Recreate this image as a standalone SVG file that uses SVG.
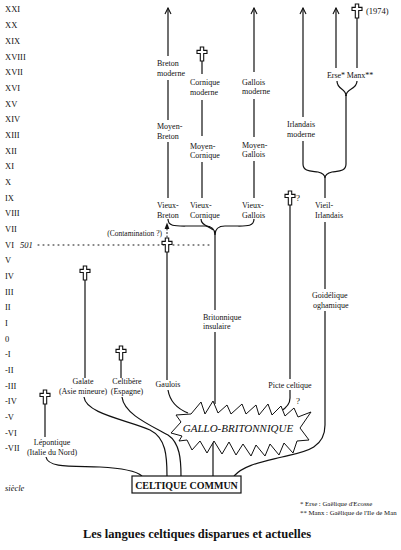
<svg xmlns="http://www.w3.org/2000/svg" xmlns:xlink="http://www.w3.org/1999/xlink" width="401" height="550" viewBox="0 0 401 550">
<style>
text{font-family:"Liberation Serif","Times New Roman",serif;fill:#111}
.c{font-size:8.5px}
.l{font-size:8px}
.ln{fill:none;stroke:#111;stroke-width:1.2}
.dot{fill:none;stroke:#111;stroke-width:1;stroke-dasharray:1 4;stroke-linecap:round}
.cr{fill:#fff;stroke:#111;stroke-width:1.1}
</style>
<defs>
<marker id="ah" markerWidth="8" markerHeight="8" refX="7" refY="4" orient="auto" markerUnits="userSpaceOnUse" viewBox="0 0 8 8">
<path d="M1,1 L7,4 L1,7" fill="none" stroke="#111" stroke-width="1.1"/>
</marker>
<path id="cross" class="cr" d="M-1.7,-7 h3.4 v3.4 h3.3 v3.1 h-3.3 v7.5 h-3.4 v-7.5 h-3.3 v-3.1 h3.3 z"/>
</defs>
<rect width="401" height="550" fill="#fff"/>

<g id="centuries" class="c">
<text x="5" y="12">XXI</text><text x="5" y="28">XX</text><text x="5" y="44">XIX</text><text x="5" y="60">XVIII</text>
<text x="5" y="75">XVII</text><text x="5" y="91">XVI</text><text x="5" y="107">XV</text><text x="5" y="122">XIV</text>
<text x="5" y="138">XIII</text><text x="5" y="154">XII</text><text x="5" y="169">XI</text><text x="5" y="185">X</text>
<text x="5" y="201">IX</text><text x="5" y="216">VIII</text><text x="5" y="232">VII</text><text x="5" y="248">VI</text>
<text x="5" y="263">V</text><text x="5" y="279">IV</text><text x="5" y="295">III</text><text x="5" y="310">II</text>
<text x="5" y="326">I</text><text x="5" y="342">0</text><text x="5" y="357">-I</text><text x="5" y="373">-II</text>
<text x="5" y="389">-III</text><text x="5" y="404">-IV</text><text x="5" y="420">-V</text><text x="5" y="436">-VI</text>
<text x="5" y="451">-VII</text>
<text x="5" y="491" font-style="italic">siècle</text>
</g>

<g id="date501">
<text x="20" y="248" class="c" font-style="italic">501</text>
<path class="dot" d="M38,245 H212"/>
</g>

<g id="connectors">
<!-- Breton -->
<path class="ln" d="M168,56 V8" marker-end="url(#ah)"/>
<path class="ln" d="M168,80 V120 M168,142 V198"/>
<!-- Cornique -->
<path class="ln" d="M202,61 V74 M202,100 V136 M202,162 V198"/>
<!-- Gallois -->
<path class="ln" d="M254,72 V8" marker-end="url(#ah)"/>
<path class="ln" d="M254,99 V137 M254,161 V198"/>
<!-- Vieux fork -->
<path class="ln" d="M168,219 C168,227 176,226 190,226 L205,226 C212,226 215,229 215,235"/>
<path class="ln" d="M201,219 C201,226 210,226 213,230"/>
<path class="ln" d="M254,219 C254,227 246,226 234,226 L225,226 C218,226 215,229 215,235"/>
<path class="ln" d="M215,235 V310 M215,332 V404"/>
<!-- Irlandais -->
<path class="ln" d="M303,117 V8" marker-end="url(#ah)"/>
<path class="ln" d="M303,141 V164 C303,172 312,171 318,172 C322,173 325,175 325,178"/>
<path class="ln" d="M346,95 V164 C346,172 337,171 332,172 C328,173 325,175 325,178"/>
<path class="ln" d="M325,178 V198 M325,222 V289 M325,311 V425 C325,450 302,452 282,457 C262,462 244,465 234,476"/>
<!-- Erse / Manx -->
<path class="ln" d="M336,68 V8" marker-end="url(#ah)"/>
<path class="ln" d="M357,18 V68"/>
<path class="ln" d="M337,81 C337,90 346,88 346,96"/>
<path class="ln" d="M357,81 C357,90 346,88 346,96"/>
<!-- Gaulois -->
<path class="ln" d="M167,252 V380"/>
<path class="dot" d="M167,237 V229" style="stroke-dasharray:1 2.5"/>
<path d="M164.6,229 L167,222.5 L169.4,229 Z" fill="#111"/>
<path class="ln" d="M168,390 C170,402 178,409 188,413"/>
<!-- Picte -->
<path class="ln" d="M290,205 V379"/>
<path class="ln" d="M290,390 V398 C290,404 286,408 281,411"/>
<!-- Galate -->
<path class="ln" d="M85,280 V378"/>
<path class="ln" d="M84,397 C86,414 128,420 150,430 C166,438 167,456 167,476"/>
<!-- Celtibere -->
<path class="ln" d="M121,360 V378"/>
<path class="ln" d="M122,397 C124,414 150,425 168,435 C180,443 181,460 181,476"/>
<!-- Lepontique -->
<path class="ln" d="M45,404 V437"/>
<path class="ln" d="M46,457 C48,468 72,466 100,467 C120,468 135,470 142,476"/>
<!-- star to box -->
<path class="ln" d="M213,441 V476"/>
</g>

<g id="crosses">
<use xlink:href="#cross" x="202" y="54"/>
<use xlink:href="#cross" x="357" y="11"/>
<use xlink:href="#cross" x="167" y="245"/>
<use xlink:href="#cross" x="290" y="198"/>
<use xlink:href="#cross" x="85" y="273"/>
<use xlink:href="#cross" x="121" y="353"/>
<use xlink:href="#cross" x="45" y="397"/>
</g>

<g id="breton" class="l">
<text x="157" y="66">Breton</text><text x="157" y="76">moderne</text>
<text x="157" y="129">Moyen-</text><text x="157" y="139">Breton</text>
<text x="157" y="208">Vieux-</text><text x="157" y="218">Breton</text>
</g>
<g id="cornique" class="l">
<text x="190" y="85">Cornique</text><text x="190" y="95">moderne</text>
<text x="190" y="149">Moyen-</text><text x="190" y="158">Cornique</text>
<text x="190" y="208">Vieux-</text><text x="190" y="218">Cornique</text>
</g>
<g id="gallois" class="l">
<text x="242" y="85">Gallois</text><text x="242" y="94">moderne</text>
<text x="242" y="148">Moyen-</text><text x="242" y="157">Gallois</text>
<text x="242" y="208">Vieux-</text><text x="242" y="218">Gallois</text>
</g>
<g id="irlandais" class="l">
<text x="287" y="127">Irlandais</text><text x="287" y="137">moderne</text>
<text x="315" y="208">Vieil-</text><text x="315" y="218">Irlandais</text>
<text x="312" y="298">Goidélique</text><text x="313" y="308">oghamique</text>
</g>
<g id="erse-manx" class="l">
<text x="336" y="78" text-anchor="middle">Erse*</text>
<text x="360" y="78" text-anchor="middle">Manx**</text>
<text x="366" y="14" class="c">(1974)</text>
</g>
<g id="britonnique" class="l">
<text x="203" y="320">Britonnique</text><text x="203" y="329">insulaire</text>
</g>
<g id="gaulois" class="l">
<text x="168" y="387" text-anchor="middle">Gaulois</text>
<text x="162" y="236" text-anchor="end" font-size="7.5">(Contamination ?)</text>
</g>
<g id="picte" class="l">
<text x="290" y="388" text-anchor="middle">Picte celtique</text>
<text x="296" y="201" font-size="9">?</text>
<text x="296" y="404" font-size="9">?</text>
</g>
<g id="galate" class="l">
<text x="83" y="384" text-anchor="middle">Galate</text><text x="83" y="394" text-anchor="middle">(Asie mineure)</text>
</g>
<g id="celtibere" class="l">
<text x="127" y="384" text-anchor="middle">Celtibère</text><text x="127" y="394" text-anchor="middle">(Espagne)</text>
</g>
<g id="lepontique" class="l">
<text x="52" y="445" text-anchor="middle">Lépontique</text><text x="52" y="455" text-anchor="middle">(Italie du Nord)</text>
</g>

<g id="gallo-britonnique">
<path fill="#fff" stroke="#111" stroke-width="1" d="M171,433 L181,422 L176,415 L191,414 L201,402 L205,414 L213,401 L218,413 L227,405 L231,414 L242,404 L246,414 L256,405 L259,415 L268,404 L272,415 L281,406 L285,416 L294,408 L298,417 L311,412 L300,428 L309,440 L297,441 L293,453 L284,443 L279,455 L270,444 L265,456 L256,445 L251,456 L243,444 L236,455 L229,442 L222,454 L214,441 L207,453 L200,441 L192,450 L187,440 L179,441 L182,436 Z"/>
<text x="238" y="432" text-anchor="middle" font-size="11" font-style="italic">GALLO-BRITONNIQUE</text>
</g>

<g id="celtique-commun">
<rect x="132" y="476" width="109" height="17" fill="#fff" stroke="#111" stroke-width="1.2"/>
<text x="186.5" y="488.5" text-anchor="middle" font-size="10" font-weight="bold">CELTIQUE COMMUN</text>
</g>

<g id="notes" font-size="6.8">
<text x="300" y="506">* Erse : Gaëlique d'Ecosse</text>
<text x="300" y="515">** Manx : Gaëlique de l'Ile de Man</text>
</g>
<text x="197" y="538" text-anchor="middle" font-size="12.5" font-weight="bold">Les langues celtiques disparues et actuelles</text>
</svg>
